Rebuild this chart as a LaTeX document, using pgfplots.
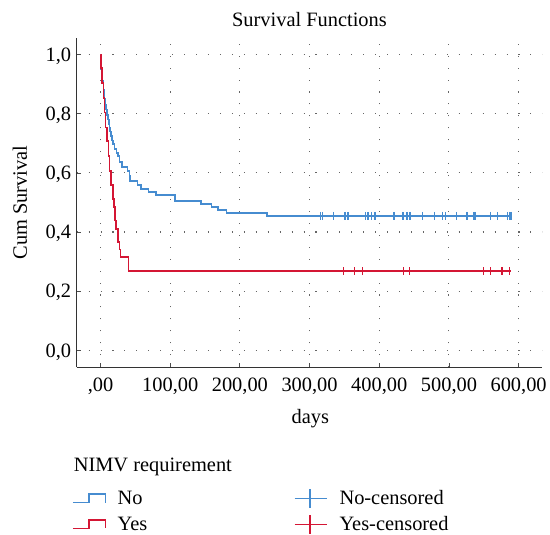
\documentclass[border=0pt]{standalone}
\usepackage{fontspec}
\setmainfont{Liberation Serif}
\usepackage{pgfplots}
\pgfplotsset{compat=1.18}
\definecolor{nocol}{RGB}{70,140,208}
\definecolor{yescol}{RGB}{212,22,52}
\pgfplotsset{every axis/.append style={font=\fontsize{20.5}{24}\selectfont}}
\begin{document}
\begin{tikzpicture}[font=\fontsize{20.5}{24}\selectfont]
\begin{axis}[
  at={(0pt,0pt)}, anchor=south west,
  scale only axis, width=468pt, height=331pt,
  xmin=-34.3, xmax=634, ymin=-0.0572, ymax=1.057,
  axis lines*=left,
  axis line style={line width=1.2pt, black!80},
  xtick={0,100,200,300,400,500,600},
  xticklabels={{,00},{100,00},{200,00},{300,00},{400,00},{500,00},{600,00}},
  ytick={0,0.2,0.4,0.6,0.8,1},
  yticklabels={{0,0},{0,2},{0,4},{0,6},{0,8},{1,0}},
  tick align=inside, major tick length=4pt,
  tick style={line width=0.8pt, black!70},
  xticklabel style={anchor=base, yshift=-24pt},
  yticklabel style={anchor=base east, yshift=-6.8pt, xshift=-2pt},
  grid=major,
  major grid style={black!60, line width=1.1pt, dash pattern=on 1.1pt off 10.9pt},
  title={Survival Functions},
  title style={at={(axis description cs:0.5,1)}, anchor=base, yshift=5pt},
  xlabel={days},
  xlabel style={at={(axis description cs:0.502,-0.170)}, anchor=base},
  ylabel={Cum Survival},
  ylabel style={at={(axis description cs:-0.1218,0.5)}, anchor=center},
]
% No
\addplot[const plot, nocol, line width=1.6pt]
  coordinates {(0,1) (0.5,0.97) (1,0.95) (2,0.93) (3,0.91) (4,0.88) (5.5,0.85) (7,0.83) (8,0.815)
  (9.5,0.795) (10.5,0.78) (12,0.765) (13,0.754) (14,0.74) (15.2,0.724) (16.5,0.71) (17.6,0.697)
  (20,0.68) (23,0.668) (24.8,0.657) (27,0.636) (31,0.62) (39,0.606) (41.4,0.589) (42.4,0.572)
  (53,0.559) (58,0.545) (68.6,0.535) (79.5,0.525) (106.7,0.505) (143.8,0.495) (159.5,0.484)
  (169,0.475) (180.5,0.465) (239,0.455) (591,0.455)};
\addplot[only marks, nocol, mark=|, mark size=4pt, mark options={line width=1.3pt}]
  coordinates {(316,0.455) (319,0.455) (334,0.455) (351,0.455) (355,0.455) (380,0.455) (384,0.455)
  (389,0.455) (394,0.455) (421,0.455) (433,0.455) (435,0.455) (440,0.455) (444,0.455) (462,0.455)
  (479.5,0.455) (491,0.455) (495,0.455) (511,0.455) (525,0.455) (527,0.455) (536,0.455) (538,0.455)
  (560,0.455) (570,0.455) (584,0.455) (587,0.455) (589,0.455)};
% Yes
\addplot[const plot, yescol, line width=1.6pt]
  coordinates {(0,1) (1,0.955) (2.4,0.905) (4.3,0.854) (5.7,0.804) (7.1,0.753) (9,0.708) (11.4,0.658)
  (12.9,0.607) (15.2,0.56) (17.6,0.512) (19.5,0.484) (21,0.439) (22.4,0.411) (24.8,0.366) (27,0.341)
  (28.6,0.315) (40,0.268) (589,0.268)};
\addplot[only marks, yescol, mark=|, mark size=4pt, mark options={line width=1.3pt}]
  coordinates {(348.6,0.268) (364,0.268) (375.7,0.268) (435,0.268) (443,0.268) (550,0.268) (560,0.268)
  (576,0.268) (587,0.268)};
\end{axis}
% legend
\node[anchor=base west, inner sep=0pt] at (-3pt,-105pt) {NIMV requirement};
\draw[nocol, line width=1.6pt] (-3.7pt,-136pt) -- (12.3pt,-136pt) -- (12.3pt,-127.6pt) -- (29pt,-127.6pt) -- (29pt,-136pt);
\node[anchor=base west, inner sep=0pt] at (41pt,-138pt) {No};
\draw[yescol, line width=1.6pt] (-3.7pt,-162pt) -- (12.3pt,-162pt) -- (12.3pt,-153.6pt) -- (29pt,-153.6pt) -- (29pt,-162pt);
\node[anchor=base west, inner sep=0pt] at (41pt,-164pt) {Yes};
\draw[nocol, line width=1.4pt] (219pt,-132pt) -- (251.3pt,-132pt) (234.7pt,-122.7pt) -- (234.7pt,-141.4pt);
\node[anchor=base west, inner sep=0pt] at (264pt,-138pt) {No-censored};
\draw[yescol, line width=1.4pt] (219pt,-158pt) -- (251.3pt,-158pt) (234.7pt,-148.7pt) -- (234.7pt,-167.4pt);
\node[anchor=base west, inner sep=0pt] at (264pt,-164pt) {Yes-censored};
\path[use as bounding box] (-77pt,-164pt) rectangle (473pt,369pt);
\end{tikzpicture}
\end{document}
